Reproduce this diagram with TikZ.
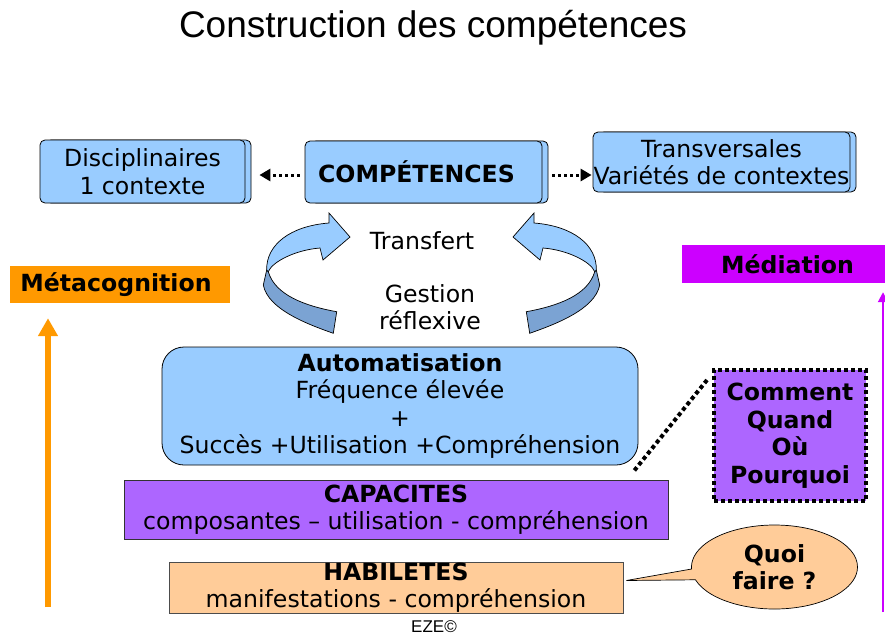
\documentclass[tikz,border=0pt]{standalone}
\usepackage{fontspec}
\setmainfont{DejaVu Sans}
\newfontfamily\arialfont{Liberation Sans}
\usetikzlibrary{calc,arrows.meta,shadows,shapes.callouts}
\definecolor{ciel}{HTML}{99CCFF}
\definecolor{cielfonce}{HTML}{7BA3D3}
\definecolor{capaviolet}{HTML}{AD66FF}
\definecolor{peche}{HTML}{FFCC99}
\definecolor{orangemeta}{HTML}{FF9900}
\definecolor{magentamed}{HTML}{CC00FF}
\tikzset{
	txt/.style={font=\fontsize{23.6}{27.5}\selectfont, align=center, inner sep=0pt},
	gras/.style={font=\fontsize{23.6}{27.5}\selectfont\bfseries, align=center, inner sep=0pt},
	boite/.style={draw, fill=ciel, rounded corners=5pt, line width=0.8pt, copy shadow={shadow xshift=6pt, shadow yshift=0pt}},
	pointfleche/.style={line width=3pt, dash pattern=on 3pt off 3pt, -{Triangle[length=11pt,width=12pt]}},
	pointligne/.style={line width=4pt, dash pattern=on 4pt off 3pt},
}
\def\twistarrow[#1]{\begin{scope}[#1]
	\draw[fill=cielfonce, line width=0.7pt] (266.7,270) -- (263.3,285) .. controls (268,310) and (310,325) .. (333.3,333.3) -- (336.7,311.7) .. controls (305,306) and (275,295) .. (268.3,271.7) -- cycle;
	\draw[fill=ciel, line width=0.7pt] (266.7,270) .. controls (266,245) and (290,226) .. (329,223) -- (329,213) -- (350,237) -- (323,260) -- (320,248) .. controls (295,250) and (272,262) .. (268.3,271.7) -- cycle;
\end{scope}}

\begin{document}
\begin{tikzpicture}[x=1pt, y=-1pt]
		%%%%% START %%%%%
		\useasboundingbox (0,0) rectangle (885,635);
		
		\node[font=\arialfont\fontsize{37}{40}\selectfont] (titre) at (433,28) {Construction des compétences};
		
		\node[boite, txt, minimum width=205, minimum height=63] (disc) at (142.5,171.5) {Disciplinaires\\1 contexte};
		\node[boite, gras, minimum width=237, minimum height=62] (comp) at (423.5,172) {COMPÉTENCES\hspace{14pt}};
		\node[boite, txt, minimum width=257, minimum height=60] (trans) at (721.5,162) {Transversales\\Variétés de contextes};
		
		\draw[pointfleche, shorten <=5pt, shorten >=14pt] ([yshift=-3]comp.west) -- ([yshift=-3]comp.west -| disc.east);
		\draw[pointfleche, shorten <=10pt, shorten >=1pt] ([yshift=-3]comp.east) -- ([yshift=-3]comp.east -| trans.west);
		
		\twistarrow[];
		\twistarrow[shift={(863,0)}, xscale=-1];
		\node[txt] (transfert) at (422,241) {Transfert};
		\node[txt] (gestion) at (430,307) {Gestion\\réflexive};
		
		\node[draw, fill=ciel, rounded corners=22pt, line width=0.8pt, txt, minimum width=476, minimum height=118] (auto) at (400,406) {\textbf{Automatisation}\\Fréquence élevée\\+\\Succès +Utilisation +Compréhension};
		\node[draw=black!80, fill=capaviolet, line width=0.8pt, txt, minimum width=544, minimum height=59] (capa) at (396,509.5) {\textbf{CAPACITES}\\composantes – utilisation - compréhension};
		\node[draw=black!70, fill=peche, line width=0.8pt, txt, minimum width=454, minimum height=51] (habi) at (396,587.5) {\textbf{HABILETES}\\manifestations - compréhension};
		\node[font=\arialfont\fontsize{17}{18}\selectfont] (eze) at (434,627) {EZE©};
		
		\node[draw, fill=capaviolet, pointligne, gras, minimum width=152, minimum height=131] (quand) at (790,435.5) {Comment\\Quand\\Où\\Pourquoi};
		\draw[pointligne] ([shift={(-4,5)}]auto.south east) -- ([shift={(-5,12)}]quand.north west);
		
		\node[ellipse callout, draw, fill=peche, line width=0.7pt, gras, minimum width=166, minimum height=84, callout absolute pointer={([shift={(3,-7)}]habi.east)}] (quoi) at (774.5,567) {Quoi\\faire ?};
		
		\node[fill=orangemeta, gras, minimum width=220, minimum height=37] (meta) at (120,284.5) {Métacognition\hspace{8pt}};
		\coordinate (metapied) at (48,607);
		\draw[orangemeta, line width=6.5pt, -{Triangle[length=18pt,width=19pt]}, shorten >=15pt] (metapied) -- (metapied |- meta.south);
		
		\node[fill=magentamed, gras, minimum width=203, minimum height=38] (media) at (783.5,264) {\hspace{8pt}Médiation};
		\coordinate (mediapied) at (883,612);
		\draw[magentamed, line width=2pt, -{Triangle[length=10pt,width=10pt]}, shorten >=9pt] (mediapied) -- (mediapied |- media.south);
		
		%%%%% END %%%%%
\end{tikzpicture}
\end{document}
